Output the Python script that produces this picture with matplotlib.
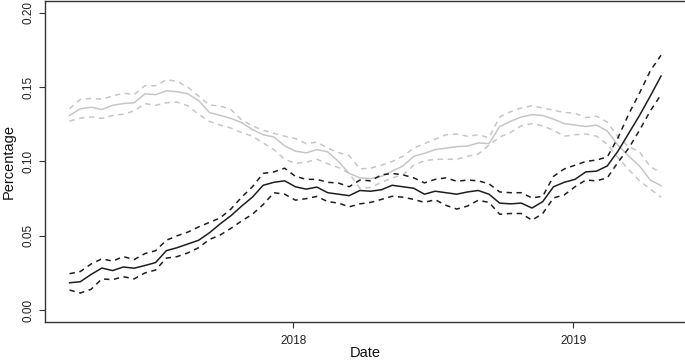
import matplotlib
matplotlib.use("Agg")
import matplotlib.pyplot as plt
import pandas as pd

plt.rcParams['font.family'] = ['Liberation Sans', 'DejaVu Sans']

dates = pd.date_range("2017-03-16", periods=56, freq="14D")

black_mid = [0.0184, 0.0191, 0.024, 0.0283, 0.0266, 0.029, 0.0282, 0.030, 0.032, 0.040,
             0.042, 0.0445, 0.047, 0.052, 0.058, 0.0635, 0.070, 0.076, 0.084, 0.086,
             0.087, 0.083, 0.0814, 0.0828, 0.079, 0.078, 0.077, 0.0805, 0.080, 0.081,
             0.084, 0.083, 0.082, 0.078, 0.080, 0.079, 0.078, 0.0795, 0.0805, 0.078,
             0.072, 0.0715, 0.072, 0.0687, 0.073, 0.083, 0.086, 0.088, 0.093, 0.0935,
             0.097, 0.107, 0.119, 0.131, 0.144, 0.1575]
black_upper = [0.0245, 0.026, 0.031, 0.0345, 0.033, 0.036, 0.034, 0.038, 0.040, 0.047,
               0.050, 0.0525, 0.056, 0.059, 0.062, 0.068, 0.076, 0.083, 0.092, 0.093,
               0.0955, 0.090, 0.088, 0.088, 0.086, 0.0855, 0.083, 0.0875, 0.087, 0.091,
               0.092, 0.091, 0.089, 0.0856, 0.088, 0.089, 0.0867, 0.0875, 0.087, 0.085,
               0.0795, 0.079, 0.079, 0.0755, 0.0766, 0.090, 0.095, 0.0975, 0.100, 0.101,
               0.103, 0.116, 0.132, 0.146, 0.161, 0.1715]
black_lower = [0.0135, 0.0115, 0.014, 0.021, 0.0205, 0.0225, 0.021, 0.025, 0.027, 0.035,
               0.036, 0.0385, 0.042, 0.0475, 0.0505, 0.055, 0.060, 0.0645, 0.071, 0.079,
               0.078, 0.074, 0.075, 0.0765, 0.073, 0.072, 0.0695, 0.0715, 0.0725, 0.0745,
               0.0766, 0.076, 0.0745, 0.0725, 0.0743, 0.0705, 0.068, 0.070, 0.0739, 0.0725,
               0.0645, 0.065, 0.065, 0.0605, 0.065, 0.0755, 0.0775, 0.083, 0.0875, 0.087,
               0.089, 0.0995, 0.109, 0.121, 0.134, 0.145]

grey_mid = [0.131, 0.1355, 0.1365, 0.135, 0.1378, 0.139, 0.1395, 0.1455, 0.145, 0.1475,
            0.147, 0.1455, 0.141, 0.133, 0.131, 0.129, 0.1262, 0.1215, 0.118, 0.1165,
            0.1105, 0.107, 0.1058, 0.108, 0.1065, 0.100, 0.092, 0.089, 0.0885, 0.090,
            0.0935, 0.097, 0.1035, 0.1055, 0.108, 0.109, 0.110, 0.1104, 0.1125, 0.112,
            0.1235, 0.127, 0.130, 0.1315, 0.131, 0.1285, 0.1255, 0.1245, 0.1235, 0.1245,
            0.1205, 0.111, 0.1035, 0.097, 0.0875, 0.0838]
grey_upper = [0.1355, 0.1419, 0.1424, 0.142, 0.144, 0.146, 0.145, 0.151, 0.151, 0.155,
              0.154, 0.150, 0.144, 0.138, 0.1374, 0.135, 0.128, 0.124, 0.121, 0.119,
              0.117, 0.1155, 0.112, 0.113, 0.109, 0.106, 0.104, 0.095, 0.0955, 0.0975,
              0.100, 0.1035, 0.109, 0.112, 0.115, 0.118, 0.1185, 0.117, 0.118, 0.116,
              0.130, 0.1335, 0.136, 0.1375, 0.136, 0.1345, 0.133, 0.1325, 0.1295, 0.1305,
              0.1265, 0.1165, 0.110, 0.1065, 0.0965, 0.0925]
grey_lower = [0.1272, 0.1292, 0.130, 0.129, 0.131, 0.1318, 0.134, 0.139, 0.1378, 0.1395,
              0.140, 0.1375, 0.1318, 0.127, 0.1245, 0.1225, 0.1195, 0.117, 0.1125, 0.108,
              0.1015, 0.0988, 0.0995, 0.1015, 0.0985, 0.096, 0.092, 0.082, 0.0825, 0.086,
              0.089, 0.091, 0.0975, 0.1005, 0.1015, 0.1015, 0.1015, 0.1035, 0.105, 0.111,
              0.1165, 0.1195, 0.124, 0.1255, 0.124, 0.121, 0.117, 0.118, 0.1185, 0.1171,
              0.1115, 0.1025, 0.0945, 0.087, 0.0815, 0.0760]

y_ticks = [0.00, 0.05, 0.10, 0.15, 0.20]
x_ticks = [pd.Timestamp("2018-01-01"), pd.Timestamp("2019-01-01")]
x_tick_labels = ["2018", "2019"]

fig = plt.figure(figsize=(6.85, 3.63), dpi=100)
ax = fig.add_axes([45/685, 1 - 322/363, 1 - 45/685 + 0.002, (322 - 1)/363])

grey_c = "#c6c6c6"
dark_c = "#1e1e1e"
ax.plot(dates, grey_mid, color=grey_c, lw=1.1)
ax.plot(dates, grey_upper, color=grey_c, lw=1.1, dashes=(3.5, 3))
ax.plot(dates, grey_lower, color=grey_c, lw=1.1, dashes=(3.5, 3))
ax.plot(dates, black_mid, color=dark_c, lw=1.1)
ax.plot(dates, black_upper, color=dark_c, lw=1.1, dashes=(3.5, 3))
ax.plot(dates, black_lower, color=dark_c, lw=1.1, dashes=(3.5, 3))

ax.set_xlim(pd.Timestamp("2017-02-12"), pd.Timestamp("2019-05-28"))
ax.set_ylim(-0.008, 0.208)

ax.set_yticks(y_ticks)
ax.set_yticklabels([f"{v:.2f}" for v in y_ticks], rotation=90, va='center')
ax.set_xticks(x_ticks)
ax.set_xticklabels(x_tick_labels)

ax.tick_params(axis='both', direction='out', length=4.3, width=0.8, colors='#333333',
               labelsize=8.5, labelcolor='#222222')
ax.tick_params(axis='y', pad=3)
ax.tick_params(axis='x', pad=5)

for s in ['left', 'bottom', 'top']:
    ax.spines[s].set_linewidth(1.0)
    ax.spines[s].set_color('#333333')
ax.spines['right'].set_visible(False)

ax.set_xlabel("Date", fontsize=10.5, color='#111111')
ax.set_ylabel("Percentage", fontsize=10.5, color='#111111')
ax.xaxis.set_label_coords(0.5, (322 - 353) / 321)
ax.xaxis.label.set_va('center')
ax.yaxis.set_label_coords((9 - 45) / 640, 0.5)
ax.yaxis.label.set_va('center')

fig.savefig("out.png", dpi=100)
